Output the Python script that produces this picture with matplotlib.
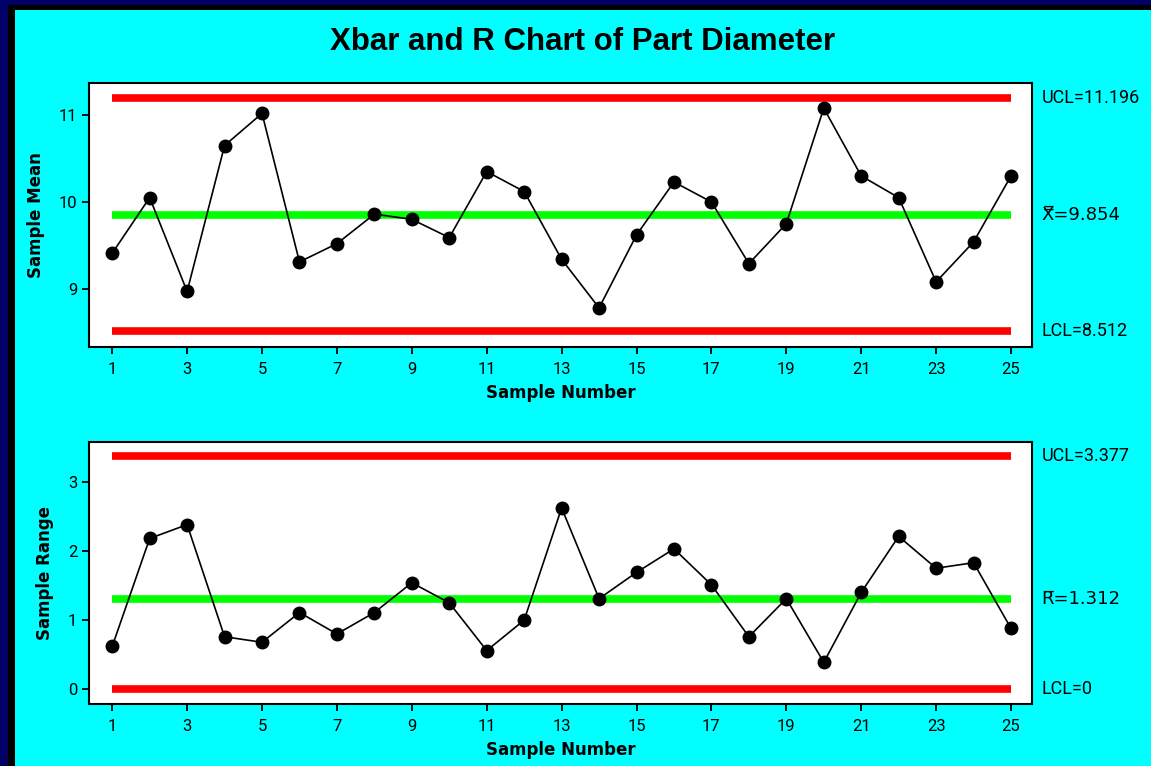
import numpy as np
import matplotlib
matplotlib.use('Agg')
import matplotlib.pyplot as plt
from matplotlib.patches import Rectangle

# Dane: średnie i rozstępy próbek
probki = np.arange(1, 26)
srednie = [9.41, 10.05, 8.97, 10.65, 11.02, 9.31, 9.52, 9.86, 9.80, 9.59,
           10.35, 10.12, 9.34, 8.78, 9.62, 10.23, 10.00, 9.29, 9.75, 11.08,
           10.30, 10.05, 9.08, 9.54, 10.30]
rozstepy = [0.62, 2.18, 2.38, 0.76, 0.68, 1.11, 0.80, 1.11, 1.54, 1.25,
            0.56, 1.00, 2.62, 1.31, 1.69, 2.03, 1.51, 0.76, 1.31, 0.39,
            1.40, 2.21, 1.75, 1.83, 0.88]

ucl_x, cl_x, lcl_x = 11.196, 9.854, 8.512
ucl_r, cl_r, lcl_r = 3.377, 1.312, 0.0

etykiety_x = ['UCL=11.196', 'X\u033f=9.854', 'LCL=8.512']
etykiety_r = ['UCL=3.377', 'R\u0305=1.312', 'LCL=0']
xticki = list(range(1, 26, 2))

plt.rcParams['font.family'] = ['Roboto', 'DejaVu Sans']

W, H = 1151, 766
fig = plt.figure(figsize=(W / 100, H / 100), dpi=100)
fig.patch.set_facecolor('#000066')

# ramka: granat, czarny pasek, turkusowe tło
fig.patches.append(Rectangle((8 / W, 0), 1, 1 - 5 / H, transform=fig.transFigure,
                             facecolor='black', edgecolor='none', zorder=-10))
fig.patches.append(Rectangle((15 / W, 0), 1, 1 - 10 / H, transform=fig.transFigure,
                             facecolor='#00FFFF', edgecolor='none', zorder=-9))

fig.text(583 / W, 1 - 42 / H, 'Xbar and R Chart of Part Diameter',
         ha='center', va='center', fontsize=22.5, fontweight='bold',
         family='Liberation Sans')


def wykres(ax, dane, ucl, cl, lcl, etykiety, ylabel, ylim, yticki):
    ax.set_facecolor('white')
    ax.plot([1, 25], [ucl, ucl], color='#FF0000', lw=5.5, solid_capstyle='butt', zorder=1)
    ax.plot([1, 25], [cl, cl], color='#00FF00', lw=5.5, solid_capstyle='butt', zorder=1)
    ax.plot([1, 25], [lcl, lcl], color='#FF0000', lw=5.5, solid_capstyle='butt', zorder=1)
    ax.plot(probki, dane, color='black', lw=1.2, marker='o', markersize=9, zorder=3)
    ax.set_xlim(0.38, 25.56)
    ax.set_ylim(*ylim)
    ax.set_xticks(xticki)
    ax.set_yticks(yticki)
    ax.tick_params(direction='out', length=5, width=1.3, labelsize=12)
    ax.tick_params(axis='x', pad=6)
    for s in ax.spines.values():
        s.set_linewidth(1.5)
    ax.set_xlabel('Sample Number', fontsize=12, fontweight='bold', labelpad=5,
                  family='DejaVu Sans')
    ax.set_ylabel(ylabel, fontsize=12, fontweight='bold', labelpad=10,
                  family='DejaVu Sans')
    for wart, tekst in zip([ucl, cl, lcl], etykiety):
        ax.annotate(tekst, xy=(1.0, wart), xycoords=('axes fraction', 'data'),
                    xytext=(7, 0), textcoords='offset points',
                    ha='left', va='center', fontsize=13,
                    family=['DejaVu Sans'] if '\u033f' in tekst or '\u0305' in tekst else None)


ax1 = fig.add_axes([89 / W, 1 - 347 / H, (1032 - 89) / W, (347 - 83) / H])
wykres(ax1, srednie, ucl_x, cl_x, lcl_x, etykiety_x, 'Sample Mean',
       (8.33, 11.37), [9, 10, 11])

ax2 = fig.add_axes([89 / W, 1 - 704 / H, (1032 - 89) / W, (704 - 442) / H])
wykres(ax2, rozstepy, ucl_r, cl_r, lcl_r, etykiety_r, 'Sample Range',
       (-0.212, 3.574), [0, 1, 2, 3])

fig.savefig('out.png', dpi=100, facecolor=fig.get_facecolor())
